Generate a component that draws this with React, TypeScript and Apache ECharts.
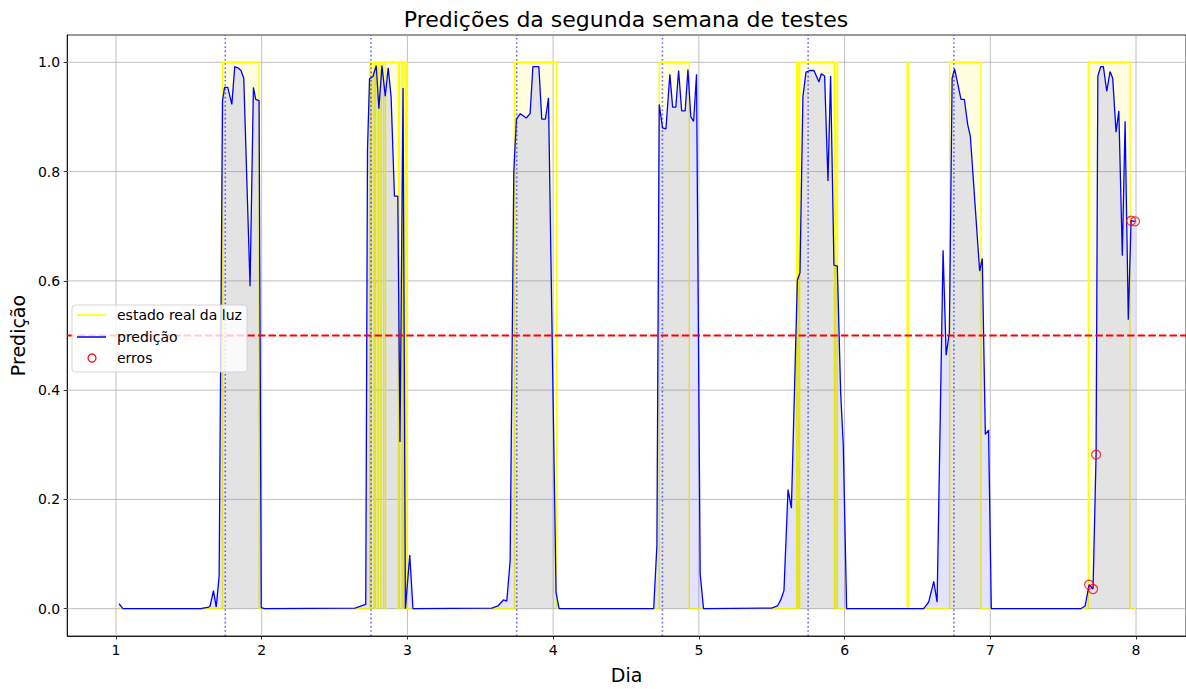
import React, { useEffect, useRef } from "react";
import * as echarts from "echarts";

// Axis ranges (days on x, prediction on y)
const X_MIN = 0.665;
const X_MAX = 8.343;
const Y_MIN = -0.05;
const Y_MAX = 1.05;

const dayTicks = [1, 2, 3, 4, 5, 6, 7, 8];
const predTicks = [0, 0.2, 0.4, 0.6, 0.8, 1.0];
const sunsetMarks = [1.75, 2.75, 3.75, 4.75, 5.75, 6.75];
const threshold = 0.5;

// Model output, [day, prediction], one array per night
const night1: [number, number][] = [
  [1.021, 0.009], [1.048, 0.0], [1.58, 0.0], [1.637, 0.003], [1.646, 0.005], [1.669, 0.033],
  [1.688, 0.003], [1.708, 0.06], [1.731, 0.93], [1.745, 0.954], [1.767, 0.954], [1.795, 0.923],
  [1.815, 0.992], [1.836, 0.99], [1.858, 0.985], [1.877, 0.971], [1.92, 0.59], [1.943, 0.954],
  [1.959, 0.932], [1.982, 0.93], [1.997, 0.002], [2.02, 0.0],
];
const night2: [number, number][] = [
  [2.64, 0.001], [2.703, 0.007], [2.714, 0.008], [2.726, 0.84], [2.74, 0.97], [2.763, 0.974],
  [2.786, 0.994], [2.804, 0.915], [2.825, 0.994], [2.848, 0.938], [2.868, 0.99], [2.888, 0.937],
  [2.911, 0.755], [2.934, 0.755], [2.949, 0.305], [2.97, 0.953], [2.986, 0.0], [3.016, 0.098],
  [3.038, 0.0],
];
const night3: [number, number][] = [
  [3.58, 0.001], [3.621, 0.005], [3.659, 0.016], [3.682, 0.014], [3.705, 0.088], [3.73, 0.8],
  [3.748, 0.896], [3.775, 0.906], [3.815, 0.898], [3.842, 0.906], [3.861, 0.992], [3.902, 0.992],
  [3.922, 0.896], [3.947, 0.896], [3.968, 0.935], [4.02, 0.03], [4.041, 0.0],
];
const night4: [number, number][] = [
  [4.69, 0.0], [4.712, 0.115], [4.728, 0.923], [4.751, 0.88], [4.774, 0.878], [4.801, 0.978],
  [4.82, 0.918], [4.842, 0.918], [4.861, 0.985], [4.882, 0.911], [4.906, 0.911], [4.925, 0.987],
  [4.945, 0.9], [4.964, 0.892], [4.984, 0.978], [5.009, 0.064], [5.032, 0.0],
];
const night5: [number, number][] = [
  [5.5, 0.001], [5.539, 0.005], [5.562, 0.016], [5.584, 0.033], [5.612, 0.218], [5.635, 0.184],
  [5.676, 0.601], [5.694, 0.615], [5.714, 0.937], [5.735, 0.982], [5.762, 0.985], [5.79, 0.985],
  [5.824, 0.964], [5.84, 0.979], [5.863, 0.975], [5.886, 0.783], [5.904, 0.975], [5.927, 0.629],
  [5.95, 0.627], [5.973, 0.396], [5.991, 0.3], [6.014, 0.0],
];
const night6: [number, number][] = [
  [6.543, 0.0], [6.577, 0.012], [6.612, 0.05], [6.635, 0.012], [6.676, 0.656], [6.697, 0.464],
  [6.719, 0.505], [6.738, 0.971], [6.755, 0.988], [6.779, 0.958], [6.799, 0.932], [6.822, 0.932],
  [6.845, 0.886], [6.863, 0.865], [6.927, 0.618], [6.945, 0.641], [6.966, 0.319], [6.988, 0.327],
  [7.007, 0.0],
];
const night7: [number, number][] = [
  [7.62, 0.0], [7.651, 0.005], [7.678, 0.044], [7.705, 0.036], [7.726, 0.282], [7.738, 0.975],
  [7.758, 0.992], [7.776, 0.992], [7.799, 0.947], [7.822, 0.983], [7.84, 0.971], [7.863, 0.872],
  [7.882, 0.911], [7.906, 0.646], [7.925, 0.892], [7.947, 0.529], [7.966, 0.71], [7.993, 0.709],
];

// Real light state: [day, state from this moment on]
const lightState: [number, number][] = [
  [1.02, 0], [1.731, 1], [1.982, 0],
  [2.7418, 1], [2.7507, 0], [2.7548, 1], [2.7712, 0], [2.7808, 1], [2.8000, 0], [2.8034, 1],
  [2.8178, 0], [2.8212, 1], [2.8370, 0], [2.8493, 1], [2.9384, 0], [2.9452, 1], [2.9630, 0],
  [2.9712, 1], [2.9849, 0], [2.9932, 1], [2.9986, 0],
  [3.735, 1], [4.025, 0],
  [4.728, 1], [4.934, 0],
  [5.6712, 1], [5.6815, 0], [5.6918, 1], [5.93, 0], [5.9397, 1], [5.9521, 0],
  [6.43, 1], [6.437, 0], [6.721, 1], [6.936, 0],
  [7.673, 1], [7.959, 0], [8.0, 0],
];

// Misclassified samples
const errors: [number, number][] = [
  [7.678, 0.044], [7.705, 0.036], [7.726, 0.282], [7.966, 0.71], [7.993, 0.709],
];

const prediction = [...night1, ...night2, ...night3, ...night4, ...night5, ...night6, ...night7];

const FONT = "DejaVu Sans";

function gridSeries() {
  const base = {
    type: "line" as const,
    silent: true,
    symbol: "none",
    z: 1,
    lineStyle: { color: "#b0b0b0", width: 0.8 },
  };
  const vertical = dayTicks.map((d) => ({ ...base, data: [[d, Y_MIN], [d, Y_MAX]] }));
  const horizontal = predTicks.map((v) => ({ ...base, data: [[X_MIN, v], [X_MAX, v]] }));
  return [...vertical, ...horizontal];
}

function refSeries() {
  const dotted = sunsetMarks.map((d) => ({
    type: "line" as const,
    silent: true,
    symbol: "none",
    z: 6,
    data: [[d, Y_MIN], [d, Y_MAX]],
    lineStyle: { color: "rgba(0,0,255,0.6)", width: 1.6, type: [1.6, 2.6] },
  }));
  const dashed = {
    type: "line" as const,
    silent: true,
    symbol: "none",
    z: 6,
    data: [[X_MIN, threshold], [X_MAX, threshold]],
    lineStyle: { color: "#ff0000", width: 1.8, type: [7.4, 3.2] },
  };
  return [...dotted, dashed];
}

function buildOption() {
  const legendZ = 100;
  return {
    animation: false,
    backgroundColor: "#ffffff",
    textStyle: { fontFamily: FONT },
    title: {
      text: "Predições da segunda semana de testes",
      left: 626,
      top: 8,
      padding: 0,
      textAlign: "center",
      textStyle: { fontSize: 22, fontWeight: "normal", color: "#000", fontFamily: FONT },
    },
    grid: {
      left: 65,
      top: 35,
      width: 1121,
      height: 604,
      show: true,
      borderColor: "#000",
      borderWidth: 0.8,
      backgroundColor: "transparent",
    },
    xAxis: {
      type: "value",
      min: X_MIN,
      max: X_MAX,
      name: "Dia",
      nameLocation: "middle",
      nameGap: 29,
      nameTextStyle: { fontSize: 19, color: "#000", fontFamily: FONT },
      splitLine: { show: false },
      axisLine: { show: true, onZero: false, lineStyle: { color: "#000", width: 0.8 } },
      axisTick: { show: true, customValues: dayTicks, length: 3.5, lineStyle: { color: "#000", width: 0.8 } },
      axisLabel: {
        customValues: dayTicks,
        fontSize: 14,
        color: "#000",
        margin: 7,
        fontFamily: FONT,
        formatter: (v: number) => String(Math.round(v)),
      },
    },
    yAxis: {
      type: "value",
      min: Y_MIN,
      max: Y_MAX,
      name: "Predição",
      nameLocation: "middle",
      nameRotate: 90,
      nameGap: 40,
      nameTextStyle: { fontSize: 19, color: "#000", fontFamily: FONT },
      splitLine: { show: false },
      axisLine: { show: true, onZero: false, lineStyle: { color: "#000", width: 0.8 } },
      axisTick: { show: true, customValues: predTicks, length: 3.5, lineStyle: { color: "#000", width: 0.8 } },
      axisLabel: {
        customValues: predTicks,
        fontSize: 14,
        color: "#000",
        margin: 7,
        fontFamily: FONT,
        formatter: (v: number) => v.toFixed(1),
      },
    },
    series: [
      ...gridSeries(),
      {
        name: "estado real da luz",
        type: "line",
        step: "end",
        symbol: "none",
        z: 2,
        data: lightState,
        lineStyle: { color: "#ffff00", width: 1.4 },
        areaStyle: { color: "#ffff00", opacity: 0.12 },
      },
      {
        name: "predição",
        type: "line",
        symbol: "none",
        z: 3,
        data: prediction,
        lineStyle: { color: "#0000ff", width: 1.3 },
        areaStyle: { color: "#0000ff", opacity: 0.11 },
      },
      {
        name: "erros",
        type: "scatter",
        symbol: "circle",
        symbolSize: 9,
        z: 4,
        data: errors,
        itemStyle: { color: "rgba(0,0,0,0)", borderColor: "#ff0000", borderWidth: 1.2 },
      },
      ...refSeries(),
    ],
    graphic: [
      {
        type: "group",
        z: legendZ,
        children: [
          {
            type: "rect",
            z: legendZ,
            shape: { x: 72, y: 305, width: 175, height: 67, r: 3 },
            style: { fill: "rgba(255,255,255,0.8)", stroke: "rgba(204,204,204,0.8)", lineWidth: 1 },
          },
          {
            type: "line",
            z: legendZ,
            shape: { x1: 77, y1: 315, x2: 106, y2: 315 },
            style: { stroke: "#ffff00", lineWidth: 1.5 },
          },
          {
            type: "text",
            z: legendZ,
            x: 117,
            y: 315,
            style: { text: "estado real da luz", fontSize: 14, fontFamily: FONT, fill: "#000", verticalAlign: "middle" },
          },
          {
            type: "line",
            z: legendZ,
            shape: { x1: 77, y1: 337, x2: 106, y2: 337 },
            style: { stroke: "#0000ff", lineWidth: 1.5 },
          },
          {
            type: "text",
            z: legendZ,
            x: 117,
            y: 337,
            style: { text: "predição", fontSize: 14, fontFamily: FONT, fill: "#000", verticalAlign: "middle" },
          },
          {
            type: "circle",
            z: legendZ,
            shape: { cx: 92, cy: 358, r: 4 },
            style: { fill: "none", stroke: "#ff0000", lineWidth: 1.2 },
          },
          {
            type: "text",
            z: legendZ,
            x: 117,
            y: 358,
            style: { text: "erros", fontSize: 14, fontFamily: FONT, fill: "#000", verticalAlign: "middle" },
          },
        ],
      },
    ],
  };
}

export default function App() {
  const ref = useRef<HTMLDivElement>(null);
  useEffect(() => {
    document.body.style.margin = "0";
    const chart = echarts.init(ref.current!, null, { renderer: "svg" });
    chart.setOption(buildOption() as any);
    return () => chart.dispose();
  }, []);
  return (
    <div
      ref={ref}
      style={{ position: "fixed", left: 0, top: 0, width: 1186, height: 689, background: "#fff" }}
    />
  );
}
